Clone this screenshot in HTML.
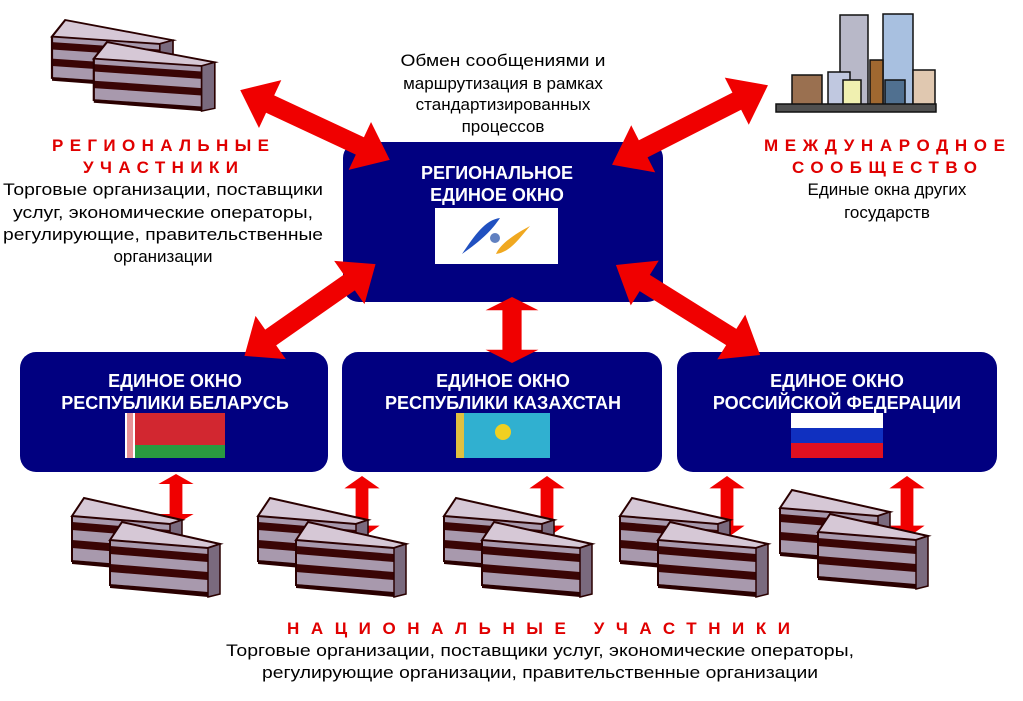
<!DOCTYPE html>
<html><head><meta charset="utf-8"><style>
body{margin:0;background:#fff;}
svg text{font-family:"Liberation Sans",sans-serif;}
</style></head><body>
<svg width="1023" height="696" viewBox="0 0 1023 696" xmlns="http://www.w3.org/2000/svg">
<defs>
<g id="arr"><polygon points="-50,0 -30,-22 -30,-8 30,-8 30,-22 50,0 30,22 30,8 -30,8 -30,22" fill="#f00000"/></g>
<g id="blk">
<polygon points="0,18 12,0 110,22 110,72 0,62" fill="#a899ad"/>
<polygon points="0,18 12,0 110,22 98,26" fill="#d6c8d6" stroke="#2a0000" stroke-width="2"/>
<polygon points="0,24 98,32 98,40 0,32" fill="#3a0505"/>
<polygon points="0,42 98,50 98,58 0,50" fill="#3a0505"/>
<polygon points="0,62 98,70 98,75 0,66" fill="#2a0000"/>
<polygon points="98,26 110,22 110,72 98,75" fill="#7a6a7e" stroke="#2a0000" stroke-width="1.5"/>
<line x1="0" y1="18" x2="0" y2="64" stroke="#2a0000" stroke-width="2"/>
</g>
<g id="bld"><use href="#blk" x="0" y="0"/><use href="#blk" x="38" y="24"/></g>
</defs>

<!-- boxes -->
<rect x="343" y="142" width="320" height="160" rx="16" fill="#010080"/>
<rect x="20" y="352" width="308" height="120" rx="16" fill="#010080"/>
<rect x="342" y="352" width="320" height="120" rx="16" fill="#010080"/>
<rect x="677" y="352" width="320" height="120" rx="16" fill="#010080"/>

<g fill="#fff" font-weight="bold" font-size="18" text-anchor="middle">
<text x="497" y="179">РЕГИОНАЛЬНОЕ</text><text x="497" y="201">ЕДИНОЕ ОКНО</text>
<text x="175" y="387">ЕДИНОЕ ОКНО</text><text x="175" y="409">РЕСПУБЛИКИ БЕЛАРУСЬ</text>
<text x="503" y="387">ЕДИНОЕ ОКНО</text><text x="503" y="409">РЕСПУБЛИКИ КАЗАХСТАН</text>
<text x="837" y="387">ЕДИНОЕ ОКНО</text><text x="837" y="409">РОССИЙСКОЙ ФЕДЕРАЦИИ</text>
</g>

<!-- logo -->
<rect x="435" y="208" width="123" height="56" fill="#fff"/>
<path d="M462,254 C475,235 485,220 500,218 C492,230 482,240 462,254Z" fill="#2050c0"/>
<path d="M530,226 C518,240 510,252 496,254 C500,244 515,234 530,226Z" fill="#f0a820"/>
<circle cx="495" cy="238" r="5" fill="#6080c0"/>

<!-- flags -->
<rect x="125" y="413" width="100" height="32" fill="#d22730"/>
<rect x="125" y="445" width="100" height="13" fill="#2a9a40"/>
<rect x="125" y="413" width="10" height="45" fill="#fff"/>
<rect x="127" y="413" width="6" height="45" fill="#d22730" opacity="0.5"/>
<rect x="456" y="413" width="94" height="45" fill="#30b0d0"/>
<rect x="456" y="413" width="8" height="45" fill="#e0c040"/>
<circle cx="503" cy="432" r="8" fill="#f0d020"/>
<rect x="791" y="413" width="92" height="15" fill="#fff"/>
<rect x="791" y="428" width="92" height="15" fill="#1030c0"/>
<rect x="791" y="443" width="92" height="15" fill="#e01020"/>

<!-- big arrows -->
<g transform="translate(315,125) rotate(25) scale(1.65,1.2)"><use href="#arr"/></g>
<g transform="translate(690,125) rotate(-27) scale(1.75,1.2)"><use href="#arr"/></g>
<g transform="translate(310,310) rotate(-35) scale(1.6,1.2)"><use href="#arr"/></g>
<g transform="translate(512,330) rotate(90) scale(0.66,1.2)"><use href="#arr"/></g>
<g transform="translate(688,310) rotate(32) scale(1.7,1.2)"><use href="#arr"/></g>
<!-- small arrows -->
<g transform="translate(176,499) rotate(90) scale(0.5,0.8)"><use href="#arr"/></g>
<g transform="translate(362,507) rotate(90) scale(0.62,0.8)"><use href="#arr"/></g>
<g transform="translate(547,507) rotate(90) scale(0.62,0.8)"><use href="#arr"/></g>
<g transform="translate(727,507) rotate(90) scale(0.62,0.8)"><use href="#arr"/></g>
<g transform="translate(907,507) rotate(90) scale(0.62,0.8)"><use href="#arr"/></g>

<!-- buildings -->
<use href="#bld" x="72" y="498"/>
<use href="#bld" x="258" y="498"/>
<use href="#bld" x="444" y="498"/>
<use href="#bld" x="620" y="498"/>
<use href="#bld" x="780" y="490"/>
<g transform="translate(52,20) scale(1.1,0.92)"><use href="#bld"/></g>

<!-- skyscrapers -->
<g stroke="#111" stroke-width="1.5">
<rect x="840" y="15" width="28" height="90" fill="#b8b8c8"/>
<rect x="883" y="14" width="30" height="92" fill="#a8c0e0"/>
<rect x="870" y="60" width="13" height="48" fill="#a06830"/>
<rect x="792" y="75" width="30" height="32" fill="#9a7050"/>
<rect x="828" y="72" width="22" height="36" fill="#c0c8e0"/>
<rect x="843" y="80" width="18" height="28" fill="#f0f0b0"/>
<rect x="913" y="70" width="22" height="38" fill="#e0c8b0"/>
<rect x="885" y="80" width="20" height="28" fill="#507090"/>
<rect x="776" y="104" width="160" height="8" fill="#505050"/>
</g>

<!-- texts -->
<g font-size="17" fill="#000" text-anchor="middle">
<text x="503" y="66" textLength="205" lengthAdjust="spacingAndGlyphs">Обмен сообщениями и</text>
<text x="503" y="89">маршрутизация в рамках</text>
<text x="503" y="110">стандартизированных</text>
<text x="503" y="132">процессов</text>
<text x="163" y="195" textLength="320" lengthAdjust="spacingAndGlyphs">Торговые организации, поставщики</text>
<text x="163" y="218" textLength="300" lengthAdjust="spacingAndGlyphs">услуг, экономические операторы,</text>
<text x="163" y="240" textLength="320" lengthAdjust="spacingAndGlyphs">регулирующие, правительственные</text>
<text x="163" y="262">организации</text>
<text x="887" y="195">Единые окна других</text>
<text x="887" y="218">государств</text>
<text x="540" y="656" textLength="628" lengthAdjust="spacingAndGlyphs">Торговые организации, поставщики услуг, экономические операторы,</text>
<text x="540" y="678" textLength="556" lengthAdjust="spacingAndGlyphs">регулирующие организации, правительственные организации</text>
</g>
<g font-size="17" font-weight="bold" fill="#e00000" text-anchor="middle" letter-spacing="5">
<text x="163" y="151" textLength="222">РЕГИОНАЛЬНЫЕ</text>
<text x="163" y="173" textLength="160">УЧАСТНИКИ</text>
<text x="887" y="151" textLength="246">МЕЖДУНАРОДНОЕ</text>
<text x="887" y="173" textLength="190">СООБЩЕСТВО</text>
<text x="541" y="634" textLength="508">НАЦИОНАЛЬНЫЕ УЧАСТНИКИ</text>
</g>
</svg>
</body></html>
